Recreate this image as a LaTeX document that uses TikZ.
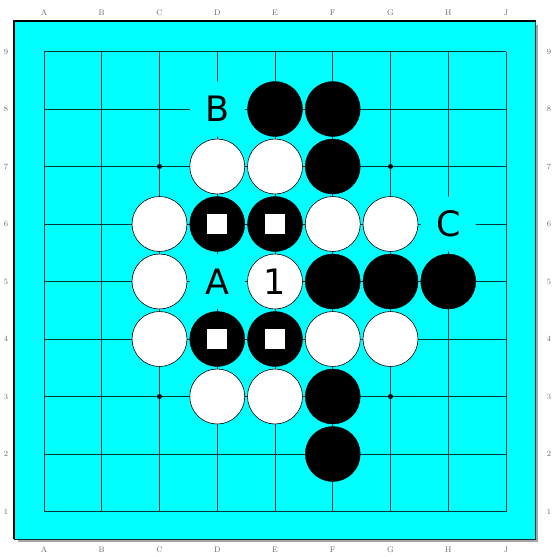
\documentclass[tikz,border=0pt]{standalone}
\usepackage{fontspec}
\newfontfamily\stonefont{DejaVu Sans}
\usepackage{tikz}
\definecolor{board}{RGB}{0,255,255}
\definecolor{gridline}{RGB}{0,55,55}
\definecolor{shadow}{RGB}{165,165,165}
\definecolor{coordtext}{RGB}{105,105,105}
\tikzset{
  bstone/.style={circle, draw=black, fill=black, minimum size=55pt, inner sep=0pt},
  wstone/.style={circle, draw=black, line width=0.6pt, fill=white, minimum size=55pt,
                 inner sep=0pt, font=\stonefont\fontsize{35}{35}\selectfont},
  marksq/.style={rectangle, fill=white, minimum size=20pt, inner sep=0pt},
  lbl/.style={circle, fill=board, minimum size=55pt, inner sep=0pt,
              font=\stonefont\fontsize{35}{35}\selectfont},
  hoshi/.style={circle, fill=black, inner sep=0pt, minimum size=5pt},
  coordlbl/.style={font=\fontsize{8}{8}\selectfont, text=coordtext},
}

\begin{document}
\begin{tikzpicture}[x=1pt,y=-1pt]
\useasboundingbox (0,0) rectangle (554,557);
% board
\fill[shadow] (18,25) rectangle (538,542);
\fill[board] (14,21) rectangle (535,539);
\draw[gridline, line width=1pt] (535,21) -- (535,539) -- (14,539);
\draw[black, line width=2.6pt] (14,539) -- (14,21) -- (536,21);
% intersections
\foreach \c [count=\i from 0] in {A,B,C,D,E,F,G,H,J} {
  \foreach \r in {1,...,9}
    \coordinate (\c\r) at ({44+57.75*\i},{511.5-57.5*(\r-1)});
}
% grid
\foreach \c in {A,B,C,D,E,F,G,H,J} \draw[gridline, line width=0.9pt] (\c1) -- (\c9);
\foreach \r in {1,...,9} \draw[gridline, line width=0.9pt] (A\r) -- (J\r);
\foreach \p in {C7,G7,C3,G3,E5} \node[hoshi] (h\p) at (\p) {};
% coordinates
\foreach \c in {A,B,C,D,E,F,G,H,J} {
  \node[coordlbl] (top\c) at (\c9 |- 0,13) {\c};
  \node[coordlbl] (bot\c) at (\c1 |- 0,550) {\c};
}
\foreach \r in {1,...,9} {
  \node[coordlbl] (left\r) at (A\r -| 6,0) {\r};
  \node[coordlbl] (right\r) at (J\r -| 549,0) {\r};
}
% stones
\foreach \p in {E8,F8,F7,D6,E6,F5,G5,H5,D4,E4,F3,F2} \node[bstone] (s\p) at (\p) {};
\foreach \p in {D7,E7,C6,F6,G6,C5,C4,F4,G4,D3,E3} \node[wstone] (s\p) at (\p) {};
\node[wstone] (sE5) at (E5) {1};
\foreach \p in {D6,E6,D4,E4} \node[marksq] (m\p) at (s\p) {};
% letters
\node[lbl] (lblB) at (D8) {B};
\node[lbl] (lblA) at (D5) {A};
\node[lbl] (lblC) at (H6) {C};
\end{tikzpicture}
\end{document}
